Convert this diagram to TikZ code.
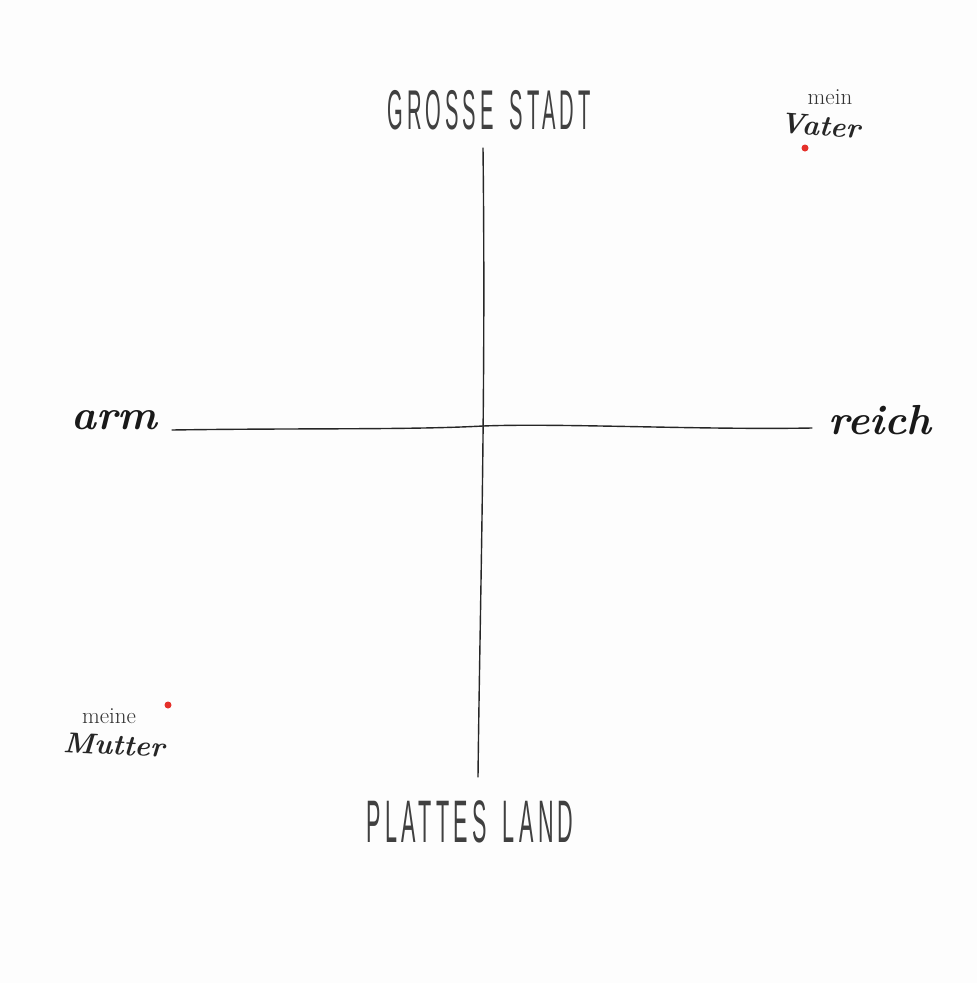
\documentclass[tikz,border=0pt]{standalone}
\usepackage{fontspec}
\usepackage{graphicx}
\usetikzlibrary{positioning}
\newfontfamily\capsfont[LetterSpace=20]{Liberation Sans}
\definecolor{paper}{HTML}{FDFDFD}
\definecolor{dotred}{HTML}{E5302A}
\newcommand{\narrow}[2]{\scalebox{0.36}[1]{#1\hspace{45pt}#2}}
\tikzset{
  axisline/.style={line width=1.4pt, black!85, line cap=round},
  caps/.style={font=\capsfont\fontsize{56}{60}\selectfont, text=black!75},
  pole/.style={font=\bfseries\itshape\fontsize{42}{46}\selectfont, text=black!90},
  who/.style={font=\bfseries\itshape\fontsize{29}{31}\selectfont, text=black!85},
  whosmall/.style={font=\fontsize{23}{25}\selectfont, text=black!80},
  dot/.style={circle, fill=dotred, inner sep=0pt, minimum size=7pt}
}

\begin{document}
\begin{tikzpicture}[x=1pt, y=-1pt]
\fill[paper] (0,0) rectangle (977,983);
\useasboundingbox (0,0) rectangle (977,983);

\node[caps] (stadt) at (489,110) {\narrow{GROSSE}{STADT}};
\node[caps, font=\capsfont\fontsize{60}{64}\selectfont] (land) at (470,822) {\narrow{PLATTES}{LAND}};
\node[pole] (arm) at (114,420) {arm};
\node[pole] (reich) at (880,420) {reich};

\coordinate (top) at (483,148);
\coordinate (bottom) at (478,777);
\coordinate (left) at (172,430);
\coordinate (right) at (812,428);
\coordinate (mid) at (483,426);

\draw[axisline] (left) .. controls (300,428) and (410,430) .. (mid)
  .. controls (560,423) and (700,430) .. (right);
\draw[axisline] (top) .. controls (486,400) and (480,600) .. (bottom);

\node[whosmall] (mein) at (830,97) {mein};
\node[who, rotate=-4] (vater) at (820,126) {Vater};
\node[dot] (vaterdot) at (805,148) {};

\node[whosmall] (meine) at (109,716) {meine};
\node[who, rotate=-3] (mutter) at (114,745) {Mutter};
\node[dot] (mutterdot) at (168,705) {};
\end{tikzpicture}
\end{document}
